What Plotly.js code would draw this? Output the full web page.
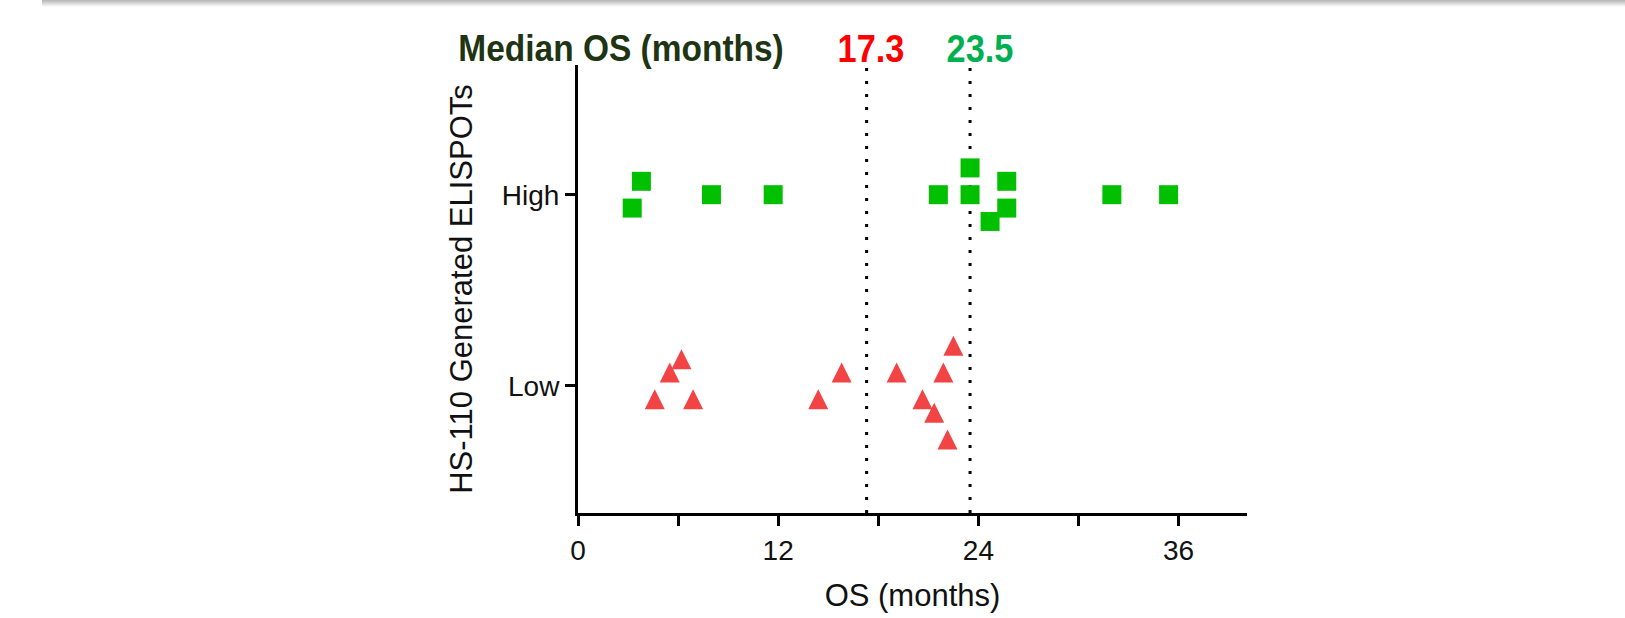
<!DOCTYPE html>
<html><head><meta charset="utf-8">
<script src="https://cdn.plot.ly/plotly-3.0.1.min.js"></script>
<style>
html,body{margin:0;padding:0;background:#fff;overflow:hidden;}
#chart{width:1625px;height:618px;position:absolute;left:0;top:0;}
#shadow{position:absolute;left:42px;top:0;width:1583px;height:7px;background:linear-gradient(#b4b4b4,rgba(255,255,255,0));}
</style></head><body>
<div id="chart"></div>
<div id="shadow"></div>
<script>
// categories
const groups = ['Low', 'High'];
// OS (months) per patient, High ELISPOT group (green squares)
const highOS = [3.25, 3.8, 8.0, 11.7, 21.6, 23.5, 23.5, 25.7, 24.7, 25.7, 32.0, 35.4];
const highJitter = [-0.07, 0.07, 0, 0, 0, 0.14, 0, 0.07, -0.14, -0.07, 0, 0];
// OS (months) per patient, Low ELISPOT group (red triangles)
const lowOS = [4.6, 6.9, 5.5, 6.2, 14.4, 15.8, 19.1, 21.9, 22.5, 20.65, 21.35, 22.15];
const lowJitter = [-0.07, -0.07, 0.07, 0.14, -0.07, 0.07, 0.07, 0.07, 0.21, -0.07, -0.14, -0.28];
// medians
const medianLow = 17.3;
const medianHigh = 23.5;
// tick labels
const xTickVals = [0, 6, 12, 18, 24, 30, 36];
const xTickText = ['0', '', '12', '', '24', '', '36'];

const FONT = 'Liberation Sans, Arial, sans-serif';
const GREEN = 'rgb(0,192,0)';
const RED = 'rgb(242,68,68)';
const TRI = 20;

const yHigh = highJitter.map(j => groups.indexOf('High') + j);
const yLow = lowJitter.map(j => groups.indexOf('Low') + j);

const traces = [
  {x: highOS, y: yHigh, type: 'scatter', mode: 'markers', name: 'High',
   marker: {symbol: 'square', size: 19, color: GREEN}, cliponaxis: false},
  {x: lowOS, y: yLow, type: 'scatter', mode: 'markers', name: 'Low',
   marker: {symbol: 'arrow-down', angle: 180, standoff: TRI / 2, size: TRI, color: RED}, cliponaxis: false}
];

const medianLine = (m) => ({type: 'line', xref: 'x', yref: 'paper', x0: m, x1: m, y0: 0, y1: 1,
  line: {color: 'black', width: 3, dash: '3px,10px'}, layer: 'below'});

const layout = {
  width: 1625, height: 618,
  margin: {l: 578, r: 378, t: 65, b: 105},
  paper_bgcolor: 'white', plot_bgcolor: 'white',
  showlegend: false,
  font: {family: FONT, color: 'black'},
  xaxis: {
    range: [0, 40.1], showgrid: false, zeroline: false,
    showline: true, linewidth: 3, linecolor: 'black',
    ticks: 'outside', ticklen: 10, tickwidth: 3, tickcolor: 'black',
    tickmode: 'array', tickvals: xTickVals, ticktext: xTickText,
    tickfont: {size: 28, family: FONT, color: '#111'},
    title: {text: 'OS (months)', font: {size: 31, family: FONT, color: '#111'}, standoff: 20}
  },
  yaxis: {
    range: [-0.664, 1.678], showgrid: false, zeroline: false,
    showline: true, linewidth: 3, linecolor: 'black',
    ticks: 'outside', ticklen: 10, tickwidth: 3, tickcolor: 'black',
    tickmode: 'array', tickvals: [0, 1], ticktext: groups,
    tickfont: {size: 28, family: FONT, color: '#111'},
    title: {text: 'HS-110 Generated ELISPOTs', font: {size: 31, family: FONT, color: '#111'}, standoff: 20}
  },
  shapes: [medianLine(medianLow), medianLine(medianHigh)],
  annotations: [
    {text: '<b>Median OS (months)</b>', xref: 'paper', yref: 'paper', x: 0.065, y: 1.036,
     xanchor: 'center', yanchor: 'middle', showarrow: false,
     font: {size: 36, family: FONT, color: 'rgb(30,52,18)'}},
    {text: '<b>' + medianLow.toFixed(1) + '</b>', xref: 'x', yref: 'paper', x: medianLow, y: 1.036,
     xanchor: 'center', yanchor: 'middle', xshift: 4, showarrow: false,
     font: {size: 39, family: FONT, color: 'rgb(255,0,0)'}},
    {text: '<b>' + medianHigh.toFixed(1) + '</b>', xref: 'x', yref: 'paper', x: medianHigh, y: 1.036,
     xanchor: 'center', yanchor: 'middle', xshift: 10, showarrow: false,
     font: {size: 39, family: FONT, color: 'rgb(0,176,80)'}}
  ]
};

// condensed look of the header text (the original uses a narrow bold face)
const squeeze = [0.93, 0.88, 0.88];
Plotly.newPlot('chart', traces, layout, {displayModeBar: false, staticPlot: true}).then(gd => {
  gd.querySelectorAll('.annotation-text').forEach((t, i) => {
    const w = t.getComputedTextLength();
    t.setAttribute('lengthAdjust', 'spacingAndGlyphs');
    t.setAttribute('textLength', (w * (squeeze[i] || 1)).toFixed(1));
  });
});
</script>
</body></html>
